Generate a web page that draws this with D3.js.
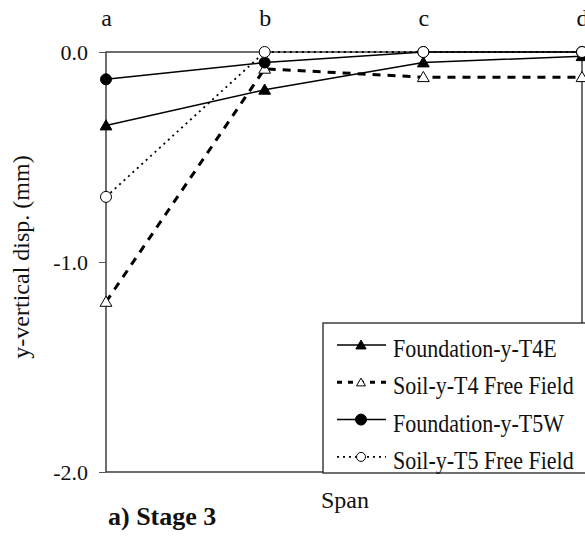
<!DOCTYPE html>
<html>
<head>
<meta charset="utf-8">
<script src="https://cdn.jsdelivr.net/npm/d3@7"></script>
<style>
  body { margin: 0; background: #fff; }
  svg text { font-family: "Liberation Serif", "Times New Roman", Times, Tinos, "Nimbus Roman", "DejaVu Serif", serif; fill: #111; }
</style>
</head>
<body>
<div id="chart"></div>
<script>
// values
var spans = ['a', 'b', 'c', 'd'];
var yTicks = [0, -1, -2];
var foundT4E = [-0.35, -0.18, -0.05, -0.02];
var soilT4 = [-1.19, -0.08, -0.12, -0.12];
var foundT5W = [-0.13, -0.05, 0.0, 0.0];
var soilT5 = [-0.69, 0.0, 0.0, 0.0];
var names = ['Foundation-y-T4E', 'Soil-y-T4 Free Field', 'Foundation-y-T5W', 'Soil-y-T5 Free Field'];

var width = 585, height = 538;
var pLeft = 106, pRight = 582, pTop = 52, pBottom = 472;

var series = [
  {name: names[0], values: foundT4E, dash: null, sw: 1.5, marker: 'tri', fill: '#000'},
  {name: names[1], values: soilT4, dash: '8,7', sw: 3, marker: 'tri', fill: '#fff'},
  {name: names[2], values: foundT5W, dash: null, sw: 1.5, marker: 'circ', fill: '#000'},
  {name: names[3], values: soilT5, dash: '2,4', sw: 1.8, marker: 'circ', fill: '#fff'}
];

var svg = d3.select('#chart').append('svg')
  .attr('width', width)
  .attr('height', height);

var x = d3.scalePoint().domain(spans).range([pLeft, pRight]);
var y = d3.scaleLinear().domain([-2, 0]).range([pBottom, pTop]);

// frame
svg.append('rect')
  .attr('x', pLeft).attr('y', pTop)
  .attr('width', pRight - pLeft).attr('height', pBottom - pTop)
  .attr('fill', 'none').attr('stroke', '#222').attr('stroke-width', 1.3);

// y axis
var yAxis = svg.append('g')
  .attr('transform', 'translate(' + pLeft + ',0)')
  .call(d3.axisLeft(y).tickValues(yTicks).tickSize(7).tickPadding(11)
    .tickFormat(function (d) { return d.toFixed(1); }));
yAxis.select('.domain').remove();
yAxis.attr('font-family', null).attr('font-size', null);
yAxis.selectAll('line').attr('stroke', '#555');
yAxis.selectAll('text').attr('font-size', 22).attr('fill', '#111');

// top labels
var xAxis = svg.append('g')
  .attr('transform', 'translate(0,' + pTop + ')')
  .call(d3.axisTop(x).tickSize(0).tickPadding(26));
xAxis.select('.domain').remove();
xAxis.attr('font-family', null).attr('font-size', null);
xAxis.selectAll('text').attr('font-size', 24).attr('fill', '#111');

var line = d3.line()
  .x(function (d, i) { return x(spans[i]); })
  .y(function (d) { return y(d); });

var triangle = d3.symbol().type(d3.symbolTriangle).size(60);

function drawMarker(g, s, cx, cy) {
  if (s.marker === 'tri') {
    g.append('path')
      .attr('d', triangle())
      .attr('transform', 'translate(' + cx + ',' + (cy + 1) + ')')
      .attr('fill', s.fill).attr('stroke', '#000').attr('stroke-width', 1);
  } else {
    g.append('circle')
      .attr('cx', cx).attr('cy', cy).attr('r', 5.5)
      .attr('fill', s.fill).attr('stroke', '#000').attr('stroke-width', 1);
  }
}

series.forEach(function (s) {
  svg.append('path')
    .datum(s.values)
    .attr('d', line)
    .attr('fill', 'none')
    .attr('stroke', '#000')
    .attr('stroke-width', s.sw)
    .attr('stroke-dasharray', s.dash);
  var g = svg.append('g');
  s.values.forEach(function (v, i) {
    drawMarker(g, s, x(spans[i]), y(v));
  });
});

// legend
var lg = svg.append('g');
lg.append('rect')
  .attr('x', 323).attr('y', 323)
  .attr('width', 270).attr('height', 150)
  .attr('fill', '#fff').attr('stroke', '#222').attr('stroke-width', 1.3);

series.forEach(function (s, i) {
  var ly = 345 + i * 37.3;
  lg.append('line')
    .attr('x1', 337).attr('x2', 386)
    .attr('y1', ly).attr('y2', ly)
    .attr('stroke', '#000')
    .attr('stroke-width', s.sw)
    .attr('stroke-dasharray', s.dash ? (s.marker === 'tri' ? '5,6' : '2,4') : null);
  if (s.marker === 'tri') {
    lg.append('path')
      .attr('d', d3.symbol().type(d3.symbolTriangle).size(s.fill === '#fff' ? 35 : 45)())
      .attr('transform', 'translate(361,' + (ly + 1) + ')')
      .attr('fill', s.fill).attr('stroke', '#000').attr('stroke-width', 1);
  } else {
    lg.append('circle')
      .attr('cx', 361).attr('cy', ly).attr('r', s.fill === '#fff' ? 4.5 : 5.5)
      .attr('fill', s.fill).attr('stroke', '#000').attr('stroke-width', 1);
  }
  lg.append('text')
    .attr('transform', 'translate(393,' + (ly + 12) + ') scale(1,1.15)')
    .attr('font-size', 22)
    .text(s.name);
});

// axis titles
svg.append('text')
  .attr('x', 345).attr('y', 508)
  .attr('text-anchor', 'middle')
  .attr('font-size', 24)
  .text('Span');

svg.append('text')
  .attr('transform', 'translate(29,257) rotate(-90)')
  .attr('text-anchor', 'middle')
  .attr('font-size', 24)
  .text('y-vertical disp. (mm)');

svg.append('text')
  .attr('x', 108).attr('y', 525)
  .attr('font-size', 26)
  .attr('font-weight', 'bold')
  .text('a) Stage 3');
</script>
</body>
</html>
